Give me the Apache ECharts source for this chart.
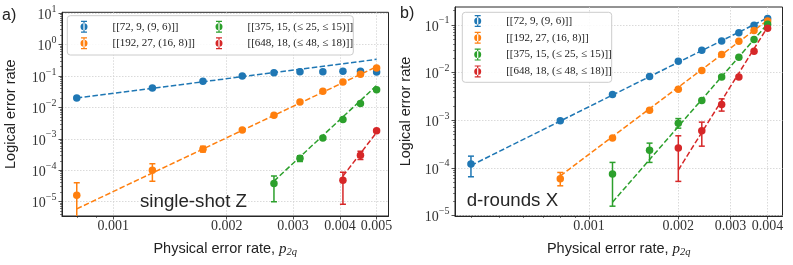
<!DOCTYPE html>
<html><head><meta charset="utf-8">
<script src="https://cdn.jsdelivr.net/npm/echarts@6/dist/echarts.min.js"></script>
<style>html,body{margin:0;padding:0;background:#fff}#c{width:793px;height:265px}</style>
</head><body><div id="c"></div>
<script>
// ---------- data ----------
const codeNames = ['[[72, 9, (9, 6)]]', '[[192, 27, (16, 8)]]', '[[375, 15, (≤ 25, ≤ 15)]]', '[[648, 18, (≤ 48, ≤ 18)]]'];
const colors = ['#1f77b4', '#ff7f0e', '#2ca02c', '#d62728'];

// Panel a) single-shot Z
const xA = [0.0008, 0.00127, 0.00173, 0.0022, 0.00267, 0.00313, 0.0036, 0.00407, 0.00453, 0.005];
const blueA = [0.0199, 0.0415, 0.068, 0.1, 0.127, 0.138, 0.137, 0.141, 0.141, 0.134];
const orangeA = [1.6e-5, 1.0e-4, 4.7e-4, 1.9e-3, 5.6e-3, 0.015, 0.033, 0.065, 0.113, 0.18];
const greenA = [null, null, null, null, 3.8e-5, 2.4e-4, 1.07e-3, 4.1e-3, 0.0134, 0.0366];
const redA = [null, null, null, null, null, null, null, 4.8e-5, 3.0e-4, 1.8e-3];
// error bars: [index into x, low, high]
const errBlueA = [];
const errOrangeA = [[0, 1e-7, 4.0e-5], [1, 4.5e-5, 1.6e-4], [2, 3.8e-4, 5.8e-4]];
const errGreenA = [[4, 1.0e-5, 6.5e-5], [5, 1.9e-4, 2.9e-4]];
const errRedA = [[7, 8.3e-6, 8.6e-5], [8, 2.2e-4, 4.0e-4]];
// fitted power-law lines (end points)
const fitBlueA = [[0.0008, 0.0199], [0.005, 0.34]];
const fitOrangeA = [[0.0008, 5.9e-6], [0.005, 0.198]];
const fitGreenA = [[0.00267, 4.5e-5], [0.005, 0.05]];
const fitRedA = [[0.00407, 6.5e-5], [0.005, 1.6e-3]];

// Panel b) d-rounds X
const xB = [0.0004, 0.0008, 0.0012, 0.0016, 0.002, 0.0024, 0.0028, 0.0032, 0.0036, 0.004];
const blueB = [1.2e-4, 9.7e-4, 3.45e-3, 8.2e-3, 0.0172, 0.0292, 0.046, 0.068, 0.098, 0.135];
const orangeB = [null, 5.9e-5, 4.25e-4, 1.62e-3, 4.47e-3, 0.011, 0.0238, 0.045, 0.076, 0.121];
const greenB = [null, null, 7.4e-5, 2.35e-4, 8.6e-4, 2.6e-3, 8.0e-3, 0.021, 0.049, 0.103];
const redB = [null, null, null, null, 2.6e-4, 6.0e-4, 2.13e-3, 8.0e-3, 0.028, 0.085];
const errBlueB = [[0, 6.5e-5, 1.76e-4]];
const errOrangeB = [[1, 4.2e-5, 8.0e-5]];
const errGreenB = [[2, 1.57e-5, 1.3e-4], [3, 1.3e-4, 3.3e-4], [4, 6.8e-4, 1.08e-3]];
const errRedB = [[4, 5.2e-5, 4.7e-4], [5, 2.85e-4, 9.1e-4], [6, 1.55e-3, 2.8e-3]];
const fitBlueB = [[0.0004, 1.12e-4], [0.004, 0.14]];
const fitOrangeB = [[0.0008, 6.8e-5], [0.004, 0.125]];
const fitGreenB = [[0.0012, 1.9e-5], [0.004, 0.105]];
const fitRedB = [[0.002, 9.0e-5], [0.004, 0.09]];

// ticks / ranges
const xTicksA = [0.001, 0.002, 0.003, 0.004, 0.005];
const xMinorA = [0.0008, 0.0009];
const yTicksA = [1e-5, 1e-4, 1e-3, 1e-2, 1e-1, 1, 10];
const xTicksB = [0.001, 0.002, 0.003, 0.004];
const xMinorB = [0.0004, 0.0005, 0.0006, 0.0007, 0.0008, 0.0009];
const yTicksB = [1e-5, 1e-4, 1e-3, 1e-2, 1e-1];
const xRangeA = [7.31e-4, 5.377e-3];
const yRangeA = [3.49e-6, 10.7];
const xRangeB = [3.534e-4, 4.49e-3];
const yRangeB = [9.77e-6, 0.2366];

// ---------- helpers ----------
function minorY(range) {
  const out = [];
  for (let k = -7; k <= 1; k++) for (let m = 2; m <= 9; m++) {
    const v = +(m * Math.pow(10, k)).toPrecision(3);
    if (v > range[0] && v < range[1]) out.push(v);
  }
  return out;
}
const ink = '#262626';
const gridLine = {show: true, lineStyle: {color: '#d0d0d0', type: [1.5, 1.5], width: 0.8}};
const xName = '{t|Physical error rate, }{p|p}{s|2q}';
const xNameStyle = {
  color: '#222',
  rich: {
    t: {fontFamily: 'Liberation Sans', fontSize: 14.5, color: '#222', lineHeight: 18},
    p: {fontFamily: 'Liberation Serif', fontStyle: 'italic', fontSize: 15, color: '#222', lineHeight: 18},
    s: {fontFamily: 'Liberation Serif', fontStyle: 'italic', fontSize: 10.5, color: '#222', lineHeight: 18, verticalAlign: 'bottom'}
  }
};
function mainX(gi, range, ticks) {
  return {
    type: 'log', gridIndex: gi, position: 'bottom', min: range[0], max: range[1],
    axisLine: {show: true, lineStyle: {color: ink, width: 1}},
    axisTick: {show: true, customValues: ticks, length: 3.5, lineStyle: {color: ink, width: 0.8}},
    axisLabel: {customValues: ticks, margin: 3, fontFamily: 'Liberation Serif', fontSize: 14, color: '#333',
      formatter: v => String(+(+v).toPrecision(3))},
    splitLine: gridLine, minorTick: {show: false}, minorSplitLine: {show: false},
    name: xName, nameLocation: 'middle', nameGap: 24, nameTextStyle: xNameStyle
  };
}
function minorAxis(pos, gi, range, ticks) {
  return {
    type: 'log', gridIndex: gi, position: pos, offset: 0, min: range[0], max: range[1],
    axisLine: {show: false},
    axisTick: {show: true, customValues: ticks, length: 2, lineStyle: {color: ink, width: 0.6}},
    axisLabel: {show: false}, splitLine: {show: false}
  };
}
function mainY(gi, range, ticks, gap) {
  return {
    type: 'log', gridIndex: gi, position: 'left', min: range[0], max: range[1],
    axisLine: {show: true, lineStyle: {color: ink, width: 1}},
    axisTick: {show: true, customValues: ticks, length: 3.5, lineStyle: {color: ink, width: 0.8}},
    axisLabel: {customValues: ticks, margin: 5.5, color: '#333',
      formatter: v => {
        const e = Math.round(Math.log10(v));
        return '{b|10}{s|' + (e < 0 ? '\u2212' + (-e) : e) + '}';
      },
      rich: {
        b: {fontFamily: 'Liberation Serif', fontSize: 14, color: '#333', lineHeight: 18, verticalAlign: 'bottom'},
        s: {fontFamily: 'Liberation Serif', fontSize: 10, color: '#333', lineHeight: 18, verticalAlign: 'top'}
      }},
    splitLine: gridLine, minorTick: {show: false}, minorSplitLine: {show: false},
    name: 'Logical error rate', nameLocation: 'middle', nameGap: gap,
    nameTextStyle: {fontFamily: 'Liberation Sans', fontSize: 14.5, color: '#222'}
  };
}
function pairs(xs, ys) {
  const out = [];
  ys.forEach((y, i) => { if (y != null) out.push([xs[i], y]); });
  return out;
}
function errData(xs, errs) { return errs.map(e => [xs[e[0]], e[1], e[2]]); }

const series = [];
function addPanel(xi, yi, xs, vals, errs, fits) {
  vals.forEach((v, k) => {
    series.push({
      type: 'line', xAxisIndex: xi, yAxisIndex: yi, data: fits[k], symbol: 'none', silent: true, z: 2,
      lineStyle: {color: colors[k], width: 1.5, type: [5.5, 2.4]}
    });
    series.push({
      type: 'custom', xAxisIndex: xi, yAxisIndex: yi, data: errData(xs, errs[k]), clip: true, z: 3,
      encode: {x: 0, y: [1, 2]}, silent: true,
      renderItem: (params, api) => {
        const x = api.value(0);
        const top = api.coord([x, api.value(2)]);
        const bot = api.coord([x, api.value(1)]);
        const st = {stroke: colors[k], lineWidth: 1.5};
        return {type: 'group', children: [
          {type: 'line', shape: {x1: top[0], y1: top[1], x2: bot[0], y2: bot[1]}, style: st},
          {type: 'line', shape: {x1: top[0] - 3, y1: top[1], x2: top[0] + 3, y2: top[1]}, style: st},
          {type: 'line', shape: {x1: bot[0] - 3, y1: bot[1], x2: bot[0] + 3, y2: bot[1]}, style: st}
        ]};
      }
    });
    series.push({
      type: 'scatter', name: codeNames[k], xAxisIndex: xi, yAxisIndex: yi, data: pairs(xs, v),
      symbol: 'circle', symbolSize: 7.5, z: 4, itemStyle: {color: colors[k], opacity: 1}
    });
  });
}
addPanel(0, 0, xA, [blueA, orangeA, greenA, redA], [errBlueA, errOrangeA, errGreenA, errRedA],
  [fitBlueA, fitOrangeA, fitGreenA, fitRedA]);
addPanel(2, 2, xB, [blueB, orangeB, greenB, redB], [errBlueB, errOrangeB, errGreenB, errRedB],
  [fitBlueB, fitOrangeB, fitGreenB, fitRedB]);

const legendIcon = 'path://M3.4,0H4.6V12H3.4Z M1,0H7V1.2H1Z M1,10.8H7V12H1Z M0.5,6a3.5,3.5 0 1,0 7,0a3.5,3.5 0 1,0 -7,0Z';
function legend(names, markerX, top, gap) {
  return {
    data: names, left: markerX - 3.5, top: top, orient: 'vertical', padding: 0, itemGap: gap,
    itemWidth: 30, itemHeight: 12, icon: legendIcon, selectedMode: false, z: 10,
    textStyle: {fontFamily: 'Liberation Serif', fontSize: 11, color: '#222', lineHeight: 14, padding: [0, 0, 0, 8.5]}
  };
}

const chart = echarts.init(document.getElementById('c'), null, {renderer: 'canvas'});
chart.setOption({
  animation: false,
  backgroundColor: '#fff',
  grid: [
    {left: 62, top: 12.3, width: 326.5, height: 203.7, show: true, borderColor: ink, borderWidth: 1, backgroundColor: 'transparent'},
    {left: 455, top: 7, width: 327.5, height: 209, show: true, borderColor: ink, borderWidth: 1, backgroundColor: 'transparent'}
  ],
  xAxis: [
    mainX(0, xRangeA, xTicksA),
    minorAxis('bottom', 0, xRangeA, xMinorA),
    mainX(1, xRangeB, xTicksB),
    minorAxis('bottom', 1, xRangeB, xMinorB)
  ],
  yAxis: [
    mainY(0, yRangeA, yTicksA, 44),
    minorAxis('left', 0, yRangeA, minorY(yRangeA)),
    mainY(1, yRangeB, yTicksB, 42),
    minorAxis('left', 1, yRangeB, minorY(yRangeB))
  ],
  legend: [
    legend([codeNames[0], codeNames[1]], 84, 19.7, 2.6),
    legend([codeNames[2], codeNames[3]], 219, 19.7, 2.6),
    legend(codeNames, 477.7, 14, 2.8)
  ],
  graphic: [
    {type: 'rect', z: 9, shape: {x: 67.3, y: 15.7, width: 286, height: 39.3, r: 3},
      style: {fill: 'rgba(255,255,255,0.85)', stroke: '#cccccc', lineWidth: 1}},
    {type: 'rect', z: 9, shape: {x: 462.3, y: 12.3, width: 149.4, height: 70, r: 3},
      style: {fill: 'rgba(255,255,255,0.85)', stroke: '#cccccc', lineWidth: 1}},
    {type: 'text', x: 2, y: 15.5, style: {text: 'a)', font: '16px "Liberation Sans"', fill: '#222', textVerticalAlign: 'middle'}},
    {type: 'text', x: 400, y: 13.7, style: {text: 'b)', font: '16px "Liberation Sans"', fill: '#222', textVerticalAlign: 'middle'}},
    {type: 'text', x: 140, y: 201.5, z: 8, style: {text: 'single-shot Z', font: '18.7px "Liberation Sans"', fill: '#262626', textVerticalAlign: 'middle'}},
    {type: 'text', x: 466.7, y: 201, z: 8, style: {text: 'd-rounds X', font: '18.7px "Liberation Sans"', fill: '#262626', textVerticalAlign: 'middle'}}
  ],
  series: series
});
</script>
</body></html>
